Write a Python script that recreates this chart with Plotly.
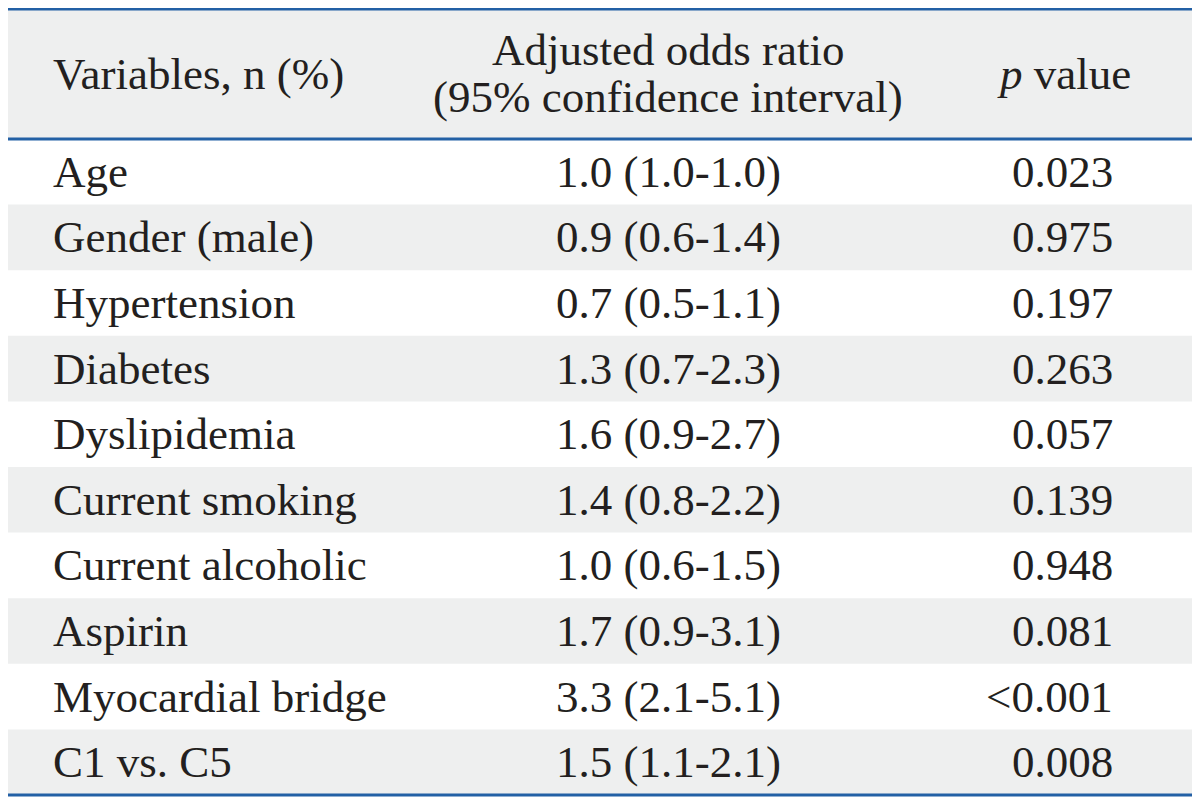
import plotly.graph_objects as go

variables = ["Age", "Gender (male)", "Hypertension", "Diabetes", "Dyslipidemia",
             "Current smoking", "Current alcoholic", "Aspirin", "Myocardial bridge", "C1 vs. C5"]
odds_ratios = ["1.0 (1.0-1.0)", "0.9 (0.6-1.4)", "0.7 (0.5-1.1)", "1.3 (0.7-2.3)", "1.6 (0.9-2.7)",
               "1.4 (0.8-2.2)", "1.0 (0.6-1.5)", "1.7 (0.9-3.1)", "3.3 (2.1-5.1)", "1.5 (1.1-2.1)"]
p_values = ["0.023", "0.975", "0.197", "0.263", "0.057",
            "0.139", "0.948", "0.081", "<0.001", "0.008"]
header_var = "Variables, n (%)"
header_or = ["Adjusted odds ratio", "(95% confidence interval)"]
header_p = "<i>p</i> value"

W, H = 1200, 803
OFF = 8  # default page body margin of the browser
LEFT, RIGHT = 8, 1192
TOP, HEAD_BOT, BOT = 9, 139, 795
row_h = (BOT - HEAD_BOT) / len(variables)
GRAY = "#eeefef"
BLUE = "#2360a5"
TXT = "#231f20"
FONT = "Liberation Serif, Times New Roman, serif"
FS = 45

fig = go.Figure()
shapes = []
annotations = []

shapes.append(dict(type="rect", xref="x", yref="y", x0=LEFT, x1=RIGHT, y0=TOP, y1=HEAD_BOT,
                   fillcolor=GRAY, line=dict(width=0), layer="below"))
for i in range(len(variables)):
    y0 = HEAD_BOT + i * row_h
    if i % 2 == 1:
        shapes.append(dict(type="rect", xref="x", yref="y", x0=LEFT, x1=RIGHT, y0=y0, y1=y0 + row_h,
                           fillcolor=GRAY, line=dict(width=0), layer="below"))
    yc = y0 + row_h / 2
    annotations.append(dict(x=51, y=yc, text=variables[i], xanchor="left", yanchor="middle"))
    annotations.append(dict(x=668, y=yc, text=odds_ratios[i], xanchor="center", yanchor="middle"))
    annotations.append(dict(x=1115, y=yc, text=p_values[i], xanchor="right", yanchor="middle"))

hc = (TOP + HEAD_BOT) / 2
annotations.append(dict(x=51, y=hc, text=header_var, xanchor="left", yanchor="middle"))
annotations.append(dict(x=668, y=hc - 24, text=header_or[0], xanchor="center", yanchor="middle"))
annotations.append(dict(x=668, y=hc + 23, text=header_or[1], xanchor="center", yanchor="middle"))
annotations.append(dict(x=1064, y=hc, text=header_p, xanchor="center", yanchor="middle"))

for a in annotations:
    a.update(xref="x", yref="y", showarrow=False, font=dict(family=FONT, size=FS, color=TXT))

for yl in (TOP, HEAD_BOT, BOT):
    shapes.append(dict(type="line", xref="x", yref="y", x0=LEFT, x1=RIGHT, y0=yl, y1=yl,
                       line=dict(color=BLUE, width=3)))

fig.update_layout(
    width=W, height=H,
    margin=dict(l=0, r=0, t=0, b=0),
    paper_bgcolor="white", plot_bgcolor="white",
    xaxis=dict(range=[OFF, W + OFF], visible=False, fixedrange=True),
    yaxis=dict(range=[H + OFF, OFF], visible=False, fixedrange=True),
    shapes=shapes, annotations=annotations, showlegend=False,
)
fig.write_html("out.html")
